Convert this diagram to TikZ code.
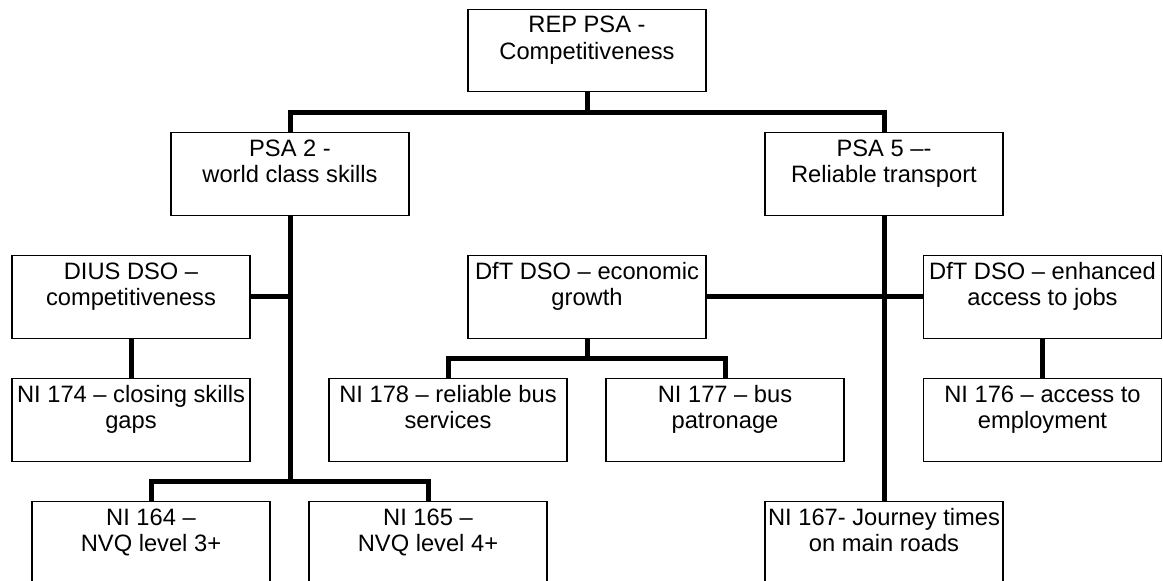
\documentclass[tikz,border=0pt]{standalone}
\usepackage{fontspec}
\setmainfont{Liberation Sans}
\begin{document}
\begin{tikzpicture}[x=1pt,y=-1pt,
  box/.style={draw=black, line width=1.2pt, inner sep=0pt, outer sep=0pt, anchor=north west,
    font=\fontsize{23.7pt}{26.7pt}\selectfont},
  conn/.style={draw=black, line width=5pt, line join=miter}]
\newcommand{\boxtext}[1]{\parbox[c][82.5pt][t]{238pt}{\centering\rule{0pt}{23.3pt}#1}}
\useasboundingbox (0,0) rectangle (1163,581);
\fill[white] (0,0) rectangle (1163,581);
% boxes
\node[box] (root) at (468,9.3) {\boxtext{REP PSA -\\ Competitiveness}};
\node[box] (psa2) at (171,132.7) {\boxtext{PSA 2 -\\ world class skills}};
\node[box] (psa5) at (765,132.7) {\boxtext{PSA 5 –-\\ Reliable transport}};
\node[box] (dius) at (12,255.7) {\boxtext{DIUS DSO –\\ competitiveness}};
\node[box] (econ) at (468,255.7) {\boxtext{DfT DSO – economic\\ growth}};
\node[box] (enh) at (923.5,255.7) {\boxtext{DfT DSO – enhanced\\ access to jobs}};
\node[box] (ni174) at (12,378.7) {\boxtext{NI 174 – closing skills\\ gaps}};
\node[box] (ni178) at (329,378.7) {\boxtext{NI 178 – reliable bus\\ services}};
\node[box] (ni177) at (606,378.7) {\boxtext{NI 177 – bus\\ patronage}};
\node[box] (ni176) at (923.5,378.7) {\boxtext{NI 176 – access to\\ employment}};
\node[box] (ni164) at (32,501.7) {\boxtext{NI 164 –\\ NVQ level 3+}};
\node[box] (ni165) at (309,501.7) {\boxtext{NI 165 –\\ NVQ level 4+}};
\node[box] (ni167) at (765,501.7) {\boxtext{NI 167- Journey times\\ on main roads}};
% junctions
\coordinate (j1) at (root.south |- 0,112);
\coordinate (j2) at (psa2.south |- 0,481);
\coordinate (j3) at (econ.south |- 0,358);
% connectors
\draw[conn] (root.south) -- (j1);
\draw[conn] (psa2.north) |- (j1) -| (psa5.north);
\draw[conn] (psa2.south) -- (j2);
\draw[conn] (ni164.north) |- (j2) -| (ni165.north);
\draw[conn] (dius.east) -- (dius.east -| psa2.south);
\draw[conn] (dius.south) -- (ni174.north);
\draw[conn] (econ.south) -- (j3);
\draw[conn] (ni178.north) |- (j3) -| (ni177.north);
\draw[conn] (psa5.south) -- (ni167.north);
\draw[conn] (econ.east) -- (enh.west);
\draw[conn] (enh.south) -- (ni176.north);
\end{tikzpicture}
\end{document}
